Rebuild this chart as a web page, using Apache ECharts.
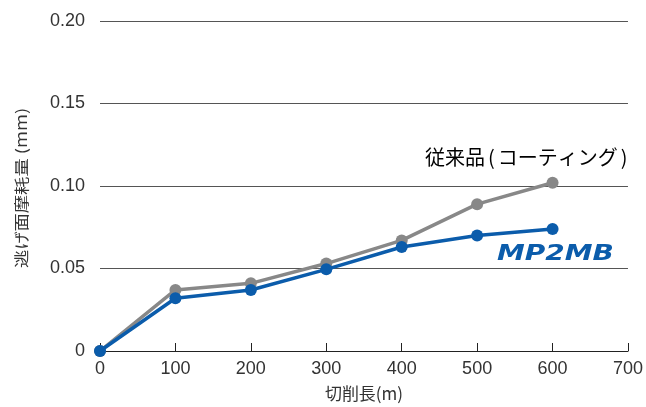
<!DOCTYPE html>
<html>
<head>
<meta charset="utf-8">
<style>
  html, body { margin: 0; padding: 0; background: #fff; }
  #chart { width: 646px; height: 407px; }
</style>
<script src="https://cdn.jsdelivr.net/npm/echarts@6/dist/echarts.min.js"></script>
</head>
<body>
<div id="chart"></div>
<script>
// 切削長 (m)
const cutLength = [0, 100, 200, 300, 400, 500, 600];
// 逃げ面摩耗量 (mm)
const conventional = [0, 0.037, 0.041, 0.053, 0.067, 0.089, 0.102];
const mp2mb = [0, 0.032, 0.037, 0.0495, 0.063, 0.070, 0.074];
const yTicks = [0, 0.05, 0.10, 0.15, 0.20];

const font = '"Noto Sans CJK JP", "Liberation Sans", sans-serif';
const numFont = '"Liberation Sans", sans-serif';

const chart = echarts.init(document.getElementById('chart'));

const toPairs = (vals) => vals.map((v, i) => [cutLength[i], v]);

const option = {
    animation: false,
    grid: { left: 100, right: 17, top: 21, bottom: 55 },
    xAxis: {
        type: 'value',
        min: 0,
        max: 700,
        interval: 100,
        name: '切削長(m)',
        nameLocation: 'middle',
        nameGap: 34,
        nameTextStyle: { fontFamily: font, fontSize: 17, color: '#333' },
        axisLine: { lineStyle: { color: '#222', width: 1.2 } },
        axisTick: { inside: true, length: 8, lineStyle: { color: '#222' } },
        axisLabel: { fontFamily: numFont, fontSize: 18, color: '#333', margin: 9 },
        splitLine: { show: false }
    },
    yAxis: {
        type: 'value',
        min: yTicks[0],
        max: yTicks[yTicks.length - 1],
        interval: 0.05,
        axisLine: { show: false },
        axisTick: { show: false },
        axisLabel: {
            fontFamily: numFont,
            fontSize: 18,
            color: '#333',
            margin: 15,
            formatter: (v) => (v === 0 ? '0' : v.toFixed(2))
        },
        splitLine: { lineStyle: { color: '#555', width: 1 } }
    },
    series: [
        {
            name: '従来品（コーティング）',
            type: 'line',
            data: toPairs(conventional),
            symbol: 'circle',
            symbolSize: 12,
            lineStyle: { color: '#888888', width: 3.5 },
            itemStyle: { color: '#888888' },
            z: 2
        },
        {
            name: 'MP2MB',
            type: 'line',
            data: toPairs(mp2mb),
            symbol: 'circle',
            symbolSize: 12,
            lineStyle: { color: '#0b5cab', width: 3.5 },
            itemStyle: { color: '#0b5cab' },
            z: 3
        }
    ],
    graphic: [
        {
            // y axis name, stretched along the text like the original
            type: 'text',
            x: 21,
            y: 188,
            rotation: Math.PI / 2,
            scaleX: 1.22,
            style: {
                text: '逃げ面摩耗量 (mm)',
                font: '15px ' + font,
                fill: '#333',
                align: 'center',
                verticalAlign: 'middle'
            }
        },
        {
            type: 'text',
            x: 425,
            y: 157,
            style: {
                text: '{a|従来品}{b|(}{a|コーティング}{b|)}',
                verticalAlign: 'middle',
                rich: {
                    a: { fontFamily: font, fontSize: 20, color: '#333' },
                    b: { fontFamily: font, fontSize: 20, color: '#333', padding: [0, 3, 0, 3] }
                }
            }
        },
        {
            type: 'text',
            x: 497,
            y: 254,
            scaleX: 1.27,
            style: {
                text: 'MP2MB',
                font: 'italic bold 22px "DejaVu Sans", sans-serif',
                fill: '#0b5cab',
                verticalAlign: 'middle'
            }
        }
    ]
};

chart.setOption(option);
</script>
</body>
</html>
